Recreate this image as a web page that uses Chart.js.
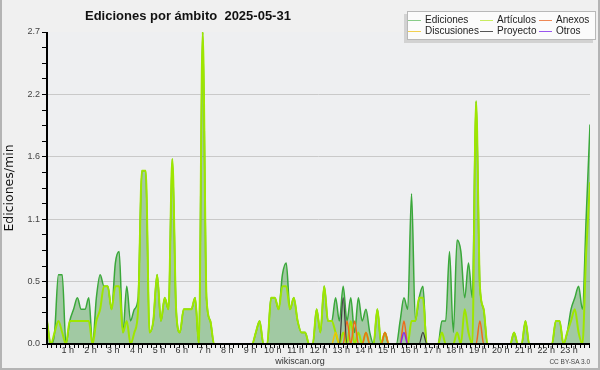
<!DOCTYPE html>
<html lang="es">
<head>
<meta charset="utf-8">
<title>Ediciones por ámbito 2025-05-31</title>
<script src="https://cdn.jsdelivr.net/npm/chart.js@4.4.1/dist/chart.umd.min.js"></script>
<style>
  html, body { margin: 0; padding: 0; background: #f0f0f0; }
  #wrap { position: relative; width: 600px; height: 370px; overflow: hidden; font-family: 'Liberation Sans', Arial, sans-serif; }
  #chart { position: absolute; left: 0; top: 0; }
  #frame { position: absolute; left: 0; top: 0; width: 600px; height: 370px; box-sizing: border-box;
           border: solid #b4b4b4; border-width: 0 2px 2px 2px; pointer-events: none; }
  #title { position: absolute; left: 85px; top: 8px; font-size: 13px; font-weight: bold; color: #111; white-space: pre; }
  #legend { position: absolute; left: 407px; top: 11px; width: 187px; height: 27px; background: #fbfbfb;
            border: 1px solid #b8b8b8; box-shadow: -3px 3px 0 #d2d2d2; font-size: 10px; color: #222; }
  .item { position: absolute; height: 12px; line-height: 12px; white-space: nowrap; }
  .item i { display: inline-block; width: 13px; height: 0; border-top: 1px solid; vertical-align: middle; margin-right: 4px; }
  #site { position: absolute; left: 0; width: 600px; top: 356px; text-align: center; font-size: 9px; color: #333; }
  #lic { position: absolute; right: 10px; top: 358px; font-size: 6.5px; color: #444; }
</style>
</head>
<body>
<div id="wrap">
  <canvas id="chart" width="600" height="370"></canvas>
  <div id="title">Ediciones por ámbito  2025-05-31</div>
  <div id="legend">
    <div class="item" style="left:0px;top:2px"><i style="color:#88cc88"></i>Ediciones</div>
    <div class="item" style="left:72px;top:2px"><i style="color:#c8ec60"></i>Artículos</div>
    <div class="item" style="left:131px;top:2px"><i style="color:#ee8855"></i>Anexos</div>
    <div class="item" style="left:0px;top:13px"><i style="color:#f2d050"></i>Discusiones</div>
    <div class="item" style="left:72px;top:13px"><i style="color:#555"></i>Proyecto</div>
    <div class="item" style="left:131px;top:13px"><i style="color:#9955ee"></i>Otros</div>
  </div>
  <div id="site">wikiscan.org</div>
  <div id="lic">CC BY-SA 3.0</div>
  <div id="frame"></div>
</div>
<script>
// 10-minute slots over the day (minutes since 00:00)
const slots = Array.from({ length: 144 }, (_, i) => i * 10);

// edits per minute, one row = two hours
const ediciones = [
  0.2, 0, 0.1, 0.6, 0.6, 0, 0.2, 0.3, 0.4, 0.3, 0.3, 0.4,
  0, 0.4, 0.6, 0.5, 0.5, 0.3, 0.7, 0.8, 0.1, 0.5, 0.2, 0.3,
  0.4, 1.5, 1.5, 0.1, 0.2, 0.6, 0.2, 0.4, 0.3, 1.6, 0.3, 0.1,
  0.3, 0.3, 0.3, 0.4, 0, 2.7, 0.4, 0.2, 0, 0, 0, 0,
  0, 0, 0, 0, 0, 0, 0, 0.1, 0.2, 0, 0, 0.4,
  0.4, 0.3, 0.6, 0.7, 0.3, 0.4, 0.2, 0.1, 0.1, 0, 0, 0.3,
  0.1, 0.5, 0.2, 0.2, 0.4, 0.2, 0.5, 0.2, 0.4, 0.1, 0.4, 0.2,
  0.3, 0.1, 0, 0.3, 0, 0.1, 0, 0, 0, 0.2, 0.4, 0.3,
  1.3, 0.2, 0.4, 0.5, 0, 0, 0, 0, 0.2, 0.2, 0.8, 0.1,
  0.9, 0.8, 0.4, 0.7, 0.4, 2.1, 0.5, 0.3, 0, 0, 0, 0,
  0, 0, 0, 0.1, 0, 0, 0.2, 0, 0, 0, 0, 0,
  0, 0, 0.2, 0.2, 0, 0.1, 0.3, 0.4, 0.5, 0.3, 1.1, 1.9
];

const articulos = [
  0.2, 0, 0.1, 0.2, 0.1, 0, 0.2, 0.2, 0.2, 0.2, 0.2, 0.2,
  0, 0.2, 0.3, 0.5, 0.5, 0.3, 0.5, 0.5, 0.1, 0.2, 0, 0.1,
  0.3, 1.5, 1.5, 0.1, 0.2, 0.6, 0.2, 0.4, 0.3, 1.6, 0.3, 0.1,
  0.3, 0.3, 0.3, 0.4, 0, 2.7, 0.4, 0.2, 0, 0, 0, 0,
  0, 0, 0, 0, 0, 0, 0, 0.1, 0.2, 0, 0, 0.4,
  0.4, 0.3, 0.5, 0.5, 0.3, 0.4, 0.2, 0.1, 0.1, 0, 0, 0.3,
  0.1, 0.5, 0.2, 0.2, 0.1, 0, 0.1, 0, 0.2, 0, 0.1, 0,
  0.1, 0, 0, 0.3, 0, 0.1, 0, 0, 0, 0, 0, 0,
  0.2, 0.2, 0.4, 0.4, 0, 0, 0, 0, 0.1, 0, 0, 0,
  0.1, 0, 0.3, 0.1, 0, 2.1, 0.5, 0.3, 0, 0, 0, 0,
  0, 0, 0, 0.1, 0, 0, 0.2, 0, 0, 0, 0, 0,
  0, 0, 0.2, 0.2, 0, 0.1, 0.2, 0.3, 0.1, 0, 0.8, 1.4
];

// sparse series: [slot index, value], every other slot is 0
const anexos = [[79, 0.2], [81, 0.2], [84, 0.1], [89, 0.1], [94, 0.2], [114, 0.2]];
const discusiones = [[76, 0.1]];
const proyecto = [[78, 0.4], [99, 0.1]];
const otros = [[94, 0.1]];

const yMax = 2.7;
const yStep = 0.135;   // 4 minor steps per labelled step
const xStep = 12;      // minor ticks every 12 minutes

function toPoints(values) {
  return values.map((v, i) => ({ x: slots[i], y: v }));
}

function fromSparse(pairs) {
  const full = slots.map(() => 0);
  pairs.forEach(([i, v]) => { full[i] = v; });
  return toPoints(full);
}

function lineSet(label, data, color, width, order) {
  return {
    label: label,
    data: data,
    borderColor: color,
    borderWidth: width,
    pointRadius: 0,
    cubicInterpolationMode: 'monotone',
    fill: false,
    order: order
  };
}

// plot background under the grid, axis lines over the data
const plotFrame = {
  id: 'plotFrame',
  beforeDraw(chart) {
    const { ctx, chartArea: a } = chart;
    ctx.save();
    ctx.fillStyle = '#eeeff1';
    ctx.fillRect(a.left, a.top, a.right - a.left, a.bottom - a.top);
    ctx.restore();
  },
  afterDatasetsDraw(chart) {
    const { ctx, chartArea: a } = chart;
    ctx.save();
    ctx.fillStyle = '#000';
    ctx.fillRect(a.left - 1, a.top, 2, a.bottom - a.top + 1);
    ctx.fillRect(a.left - 1, a.bottom - 1, a.right - a.left + 1, 2);
    ctx.restore();
  }
};

Chart.defaults.font.family = "'Liberation Sans', Arial, sans-serif";

const edicionesSet = lineSet('Ediciones', toPoints(ediciones), '#3aa83a', 1.5, 6);
edicionesSet.fill = 'origin';
edicionesSet.backgroundColor = 'rgba(60, 150, 60, 0.43)';

new Chart(document.getElementById('chart').getContext('2d'), {
  type: 'line',
  data: {
    datasets: [
      edicionesSet,
      lineSet('Artículos', toPoints(articulos), '#9ee600', 2, 5),
      lineSet('Anexos', fromSparse(anexos), '#f06a1a', 1.5, 3),
      lineSet('Discusiones', fromSparse(discusiones), '#f2c500', 1.5, 4),
      lineSet('Proyecto', fromSparse(proyecto), '#3c3c3c', 1.2, 2),
      lineSet('Otros', fromSparse(otros), '#8a2be2', 1.5, 1)
    ]
  },
  options: {
    responsive: false,
    animation: false,
    devicePixelRatio: 1,
    layout: { padding: { top: 32, right: 10, left: 0, bottom: 0 } },
    plugins: {
      legend: { display: false },
      tooltip: { enabled: false }
    },
    scales: {
      x: {
        type: 'linear',
        min: 0,
        max: slots[slots.length - 1],
        afterFit: (scale) => { scale.height = 26; },
        border: { display: false },
        grid: { drawOnChartArea: false, drawTicks: true, tickLength: 4, tickColor: '#000', tickWidth: 1 },
        ticks: {
          stepSize: xStep,
          includeBounds: false,
          autoSkip: false,
          maxRotation: 0,
          padding: -3,
          labelOffset: -2,
          color: '#333',
          font: { size: 9 },
          callback: (v) => (v > 0 && v % 60 === 0 ? (v / 60) + ' h' : '')
        }
      },
      y: {
        min: 0,
        max: yMax,
        afterFit: (scale) => { scale.width = 47; },
        border: { display: false },
        grid: {
          color: (c) => (c.index > 0 && c.index < 20 && c.index % 4 === 0 ? '#c9c9c9' : 'rgba(0,0,0,0)'),
          tickColor: '#000',
          tickLength: 5,
          lineWidth: 1
        },
        ticks: {
          stepSize: yStep,
          includeBounds: false,
          autoSkip: false,
          padding: 2,
          color: '#444',
          font: { size: 9 },
          callback: (v, i) => (i % 4 === 0 ? v.toFixed(1) : '')
        },
        title: {
          display: true,
          text: 'Ediciones/min',
          color: '#111',
          font: { size: 12.5, family: "'DejaVu Sans', sans-serif" },
          padding: { top: 2, bottom: 0 }
        }
      }
    }
  },
  plugins: [plotFrame]
});
</script>
</body>
</html>
